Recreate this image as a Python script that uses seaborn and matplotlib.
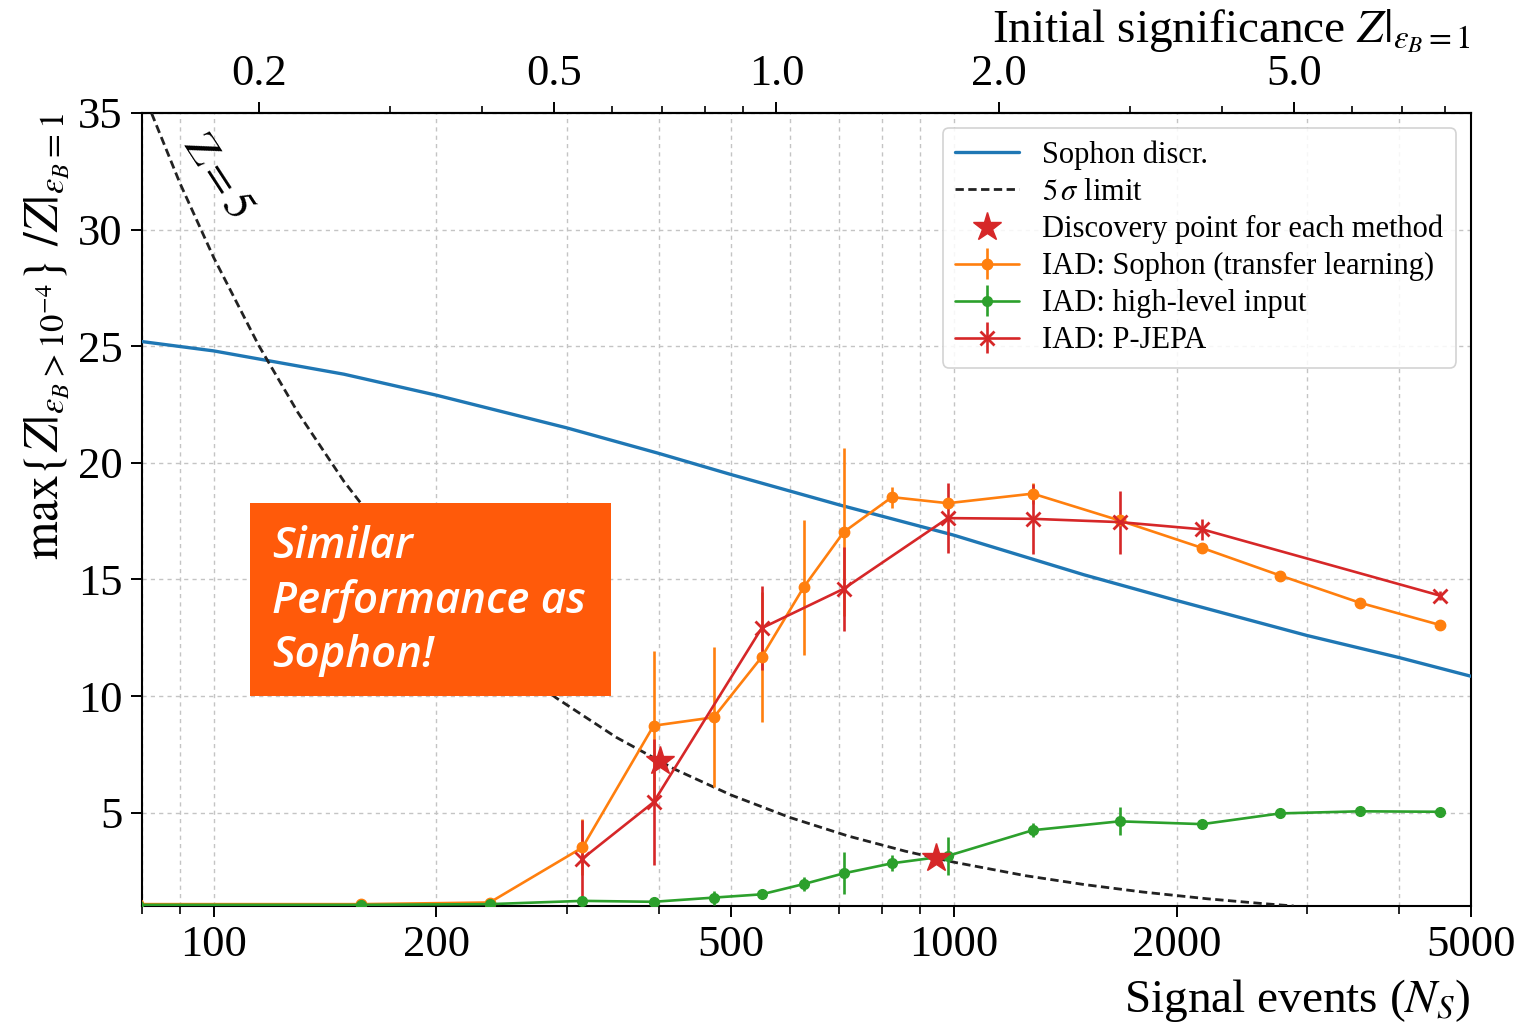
import numpy as np
import pandas as pd
import matplotlib
matplotlib.use("Agg")
import matplotlib.pyplot as plt
import seaborn as sns
from matplotlib.ticker import FixedLocator, LogLocator, NullFormatter, FixedFormatter
from matplotlib.patches import Rectangle

# ---------------- data ----------------
sophon_ns = [80, 100, 150, 200, 300, 400, 500, 700, 1000, 1500, 2000, 3000, 4000, 5000]
sophon_z = [25.2, 24.8, 23.8, 22.9, 21.5, 20.4, 19.5, 18.2, 16.9, 15.2, 14.1, 12.6, 11.65, 10.85]

limit_ns = [80, 90, 100, 115, 130, 150, 175, 200, 240, 290, 350, 420, 500, 600, 720,
            860, 1000, 1250, 1500, 1800, 2200, 2600, 2880]
limit_z = [36.0, 32.0, 28.8, 25.04, 22.15, 19.2, 16.46, 14.4, 12.0, 9.93, 8.23, 6.86, 5.76,
           4.8, 4.0, 3.35, 2.88, 2.30, 1.92, 1.6, 1.31, 1.11, 1.0]

star_ns = [401, 946]
star_z = [7.2, 3.05]

iad_ns = [79, 158, 236, 315, 393, 474, 550, 627, 710, 825, 982, 1279, 1675, 2167, 2761, 3540, 4539]
sophon_tl_z = [1.08, 1.08, 1.15, 3.51, 8.73, 9.09, 11.67, 14.67, 17.03, 18.53, 18.27, 18.68,
               17.53, 16.35, 15.17, 14.0, 13.05]
sophon_tl_err = [0, 0, 0.05, 1.2, 3.2, 3.0, 2.8, 2.9, 3.6, 0.45, 0.2, 0.45, 0.25, 0.15, 0.1, 0.1, 0.1]

highlevel_z = [1.05, 1.05, 1.08, 1.22, 1.18, 1.36, 1.5, 1.94, 2.4, 2.83, 3.15, 4.25, 4.63,
               4.51, 4.97, 5.06, 5.04]
highlevel_err = [0, 0.03, 0.05, 0.1, 0.1, 0.3, 0.15, 0.3, 0.9, 0.35, 0.8, 0.3, 0.6, 0.1, 0.1, 0.2, 0.1]

pjepa_ns = [315, 393, 550, 710, 982, 1279, 1675, 2167, 4539]
pjepa_z = [3.03, 5.45, 12.91, 14.6, 17.63, 17.6, 17.46, 17.15, 14.31]
pjepa_err = [1.65, 2.7, 1.8, 1.8, 1.5, 1.5, 1.35, 0.45, 0.2]

x_major = [100, 200, 500, 1000, 2000, 5000]
x_major_labels = ["100", "200", "500", "1000", "2000", "5000"]
y_ticks = [5, 10, 15, 20, 25, 30, 35]
top_ticks = [0.2, 0.5, 1.0, 2.0, 5.0]
top_labels = ["0.2", "0.5", "1.0", "2.0", "5.0"]
NS_PER_Z = 576.0

# ---------------- style ----------------
sns.set_theme(style="ticks")
plt.rcParams.update({
    "font.family": "serif",
    "font.serif": ["Liberation Serif", "DejaVu Serif"],
    "mathtext.fontset": "stix",
    "axes.edgecolor": "black",
    "axes.linewidth": 1.5,
    "xtick.color": "black",
    "ytick.color": "black",
    "text.color": "black",
    "axes.labelcolor": "black",
})

BLUE, ORANGE, GREEN, RED = "#1f77b4", "#ff7f0e", "#2ca02c", "#d62728"

fig = plt.figure(figsize=(15.24, 10.23), dpi=100)
ax = fig.add_axes([142 / 1524, 1 - 906 / 1023, (1471 - 142) / 1524, (906 - 113) / 1023])
ax.set_xscale("log")

grid_kw = dict(color="#c4c4c4", linestyle=(0, (3, 3)), linewidth=1.0)
ax.grid(True, which="both", axis="x", **grid_kw)
ax.grid(True, which="major", axis="y", **grid_kw)
ax.set_axisbelow(True)

df_s = pd.DataFrame({"N": sophon_ns, "Z": sophon_z})
df_l = pd.DataFrame({"N": limit_ns, "Z": limit_z})
sns.lineplot(data=df_s, x="N", y="Z", ax=ax, color=BLUE, lw=2.4, estimator=None,
             label="Sophon discr.", zorder=3)
sns.lineplot(data=df_l, x="N", y="Z", ax=ax, color="#222222", lw=2.0, estimator=None,
             linestyle=(0, (3, 1.6)), label=r"$5\,\sigma$ limit", zorder=3)

eb_o = ax.errorbar(iad_ns, sophon_tl_z, yerr=sophon_tl_err, color=ORANGE, marker="o", ms=7.5,
                   lw=1.9, elinewidth=1.9, capsize=0, label="IAD: Sophon (transfer learning)", zorder=4)
eb_g = ax.errorbar(iad_ns, highlevel_z, yerr=highlevel_err, color=GREEN, marker="o", ms=7,
                   lw=1.9, elinewidth=1.9, capsize=0, label="IAD: high-level input", zorder=4)
eb_r = ax.errorbar(pjepa_ns, pjepa_z, yerr=pjepa_err, color=RED, marker="x", ms=9.5, mew=2.0,
                   lw=1.9, elinewidth=1.9, capsize=0, label="IAD: P-JEPA", zorder=4)
star, = ax.plot(star_ns, star_z, ls="none", marker="*", ms=21, color=RED,
                label="Discovery point for each method", zorder=6)

ax.set_xlim(80, 5000)
ax.set_ylim(1, 35)

ax.xaxis.set_major_locator(FixedLocator(x_major))
ax.xaxis.set_major_formatter(FixedFormatter(x_major_labels))
ax.xaxis.set_minor_locator(LogLocator(base=10, subs=np.arange(2, 10)))
ax.xaxis.set_minor_formatter(NullFormatter())
ax.set_yticks(y_ticks)
ax.set_yticklabels([str(t) for t in y_ticks])
ax.tick_params(axis="both", which="major", direction="out", length=8, width=1.4, labelsize=32,
               top=False, right=False, pad=6)
ax.tick_params(axis="x", which="minor", direction="out", length=6, width=1.2, top=False)

secax = ax.secondary_xaxis("top", functions=(lambda n: n / NS_PER_Z, lambda z: z * NS_PER_Z))
secax.xaxis.set_major_locator(FixedLocator(top_ticks))
secax.xaxis.set_major_formatter(FixedFormatter(top_labels))
secax.xaxis.set_minor_locator(LogLocator(base=10, subs=np.arange(2, 10)))
secax.xaxis.set_minor_formatter(NullFormatter())
secax.tick_params(axis="x", which="major", direction="out", length=8, width=1.4, labelsize=32, pad=6)
secax.tick_params(axis="x", which="minor", direction="out", length=5, width=1.2)
secax.set_xlabel(r"Initial significance $Z|_{\varepsilon_B=1}$", fontsize=34, loc="right", labelpad=8)

ax.set_xlabel(r"Signal events ($N_S$)", fontsize=34, loc="right", labelpad=8)
ax.set_ylabel(r"$\max\{Z|_{\varepsilon_B>10^{-4}}\}\ /Z|_{\varepsilon_B=1}$", fontsize=35.5, loc="top",
              labelpad=4)

ax.text(101, 32.3, r"$\mathrm{Z}=5$", rotation=-57, fontsize=32, ha="center", va="center",
        rotation_mode="anchor", zorder=5)

handles = [ax.lines[0], ax.lines[1], star, eb_o, eb_g, eb_r]
labels = ["Sophon discr.", r"$5\,\sigma$ limit", "Discovery point for each method",
          "IAD: Sophon (transfer learning)", "IAD: high-level input", "IAD: P-JEPA"]
leg = ax.legend(handles, labels, loc="upper right", fontsize=22, frameon=True, fancybox=True,
                framealpha=0.85, edgecolor="#cccccc", handlelength=2.1, labelspacing=0.26,
                borderpad=0.4, handletextpad=0.75, borderaxespad=0.5)
leg.get_frame().set_linewidth(1.2)

# orange callout box
rect = Rectangle((250 / 1524, 1 - 696 / 1023), 361 / 1524, 193 / 1023, transform=fig.transFigure,
                 facecolor="#FF5A0A", edgecolor="none", zorder=20)
fig.add_artist(rect)
fig.text(272 / 1524, 1 - 601 / 1023, "Similar\nPerformance as\nSophon!", color="white", fontsize=31.5,
         family=["Open Sans", "DejaVu Sans"], style="italic", weight="semibold", va="center",
         ha="left", linespacing=1.335, zorder=21)

fig.savefig("out.png", dpi=100)
